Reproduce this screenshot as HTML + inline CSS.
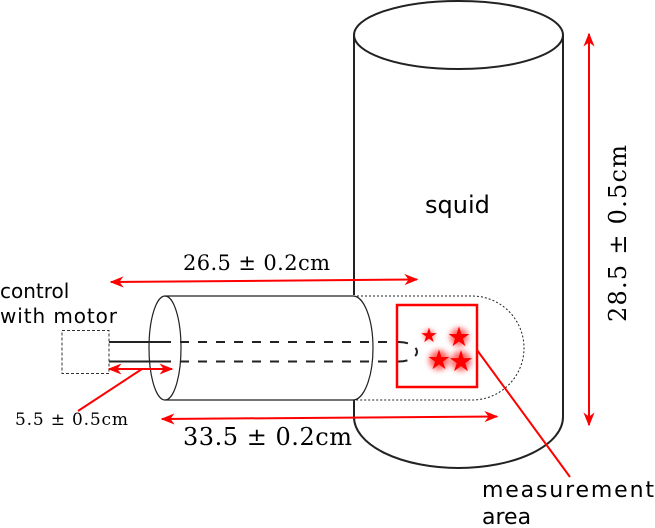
<!DOCTYPE html>
<html><head><meta charset="utf-8"><style>
html,body{margin:0;padding:0;background:#fff;width:655px;height:528px;overflow:hidden}
svg{display:block}
.s{font-family:"DejaVu Sans","Liberation Sans",sans-serif}
.m{font-family:"DejaVu Serif","Liberation Serif",serif}
</style></head><body>
<svg width="655" height="528" viewBox="0 0 655 528">
<defs>
<marker id="ah" viewBox="0 0 10 10" refX="9" refY="5" markerWidth="7" markerHeight="7" orient="auto-start-reverse"><path d="M0,1 L10,5 L0,9 L3,5 z" fill="#f00"/></marker>
<filter id="glow" x="-1" y="-1" width="3" height="3"><feGaussianBlur stdDeviation="3"/></filter>
</defs>
<g fill="none" stroke="#222" stroke-width="2">
<ellipse cx="458.5" cy="35" rx="104.5" ry="34"/>
<path d="M354,35 L354,295 M354,400 L354,417 A104.5,51 0 0 0 563,417 L563,35"/>
</g>
<g fill="none" stroke="#222" stroke-width="1" stroke-dasharray="2,2">
<path d="M353,296 L472,296 A52,52 0 0 1 472,400 L353,400"/>
</g>
<g fill="none" stroke="#222" stroke-width="1.2">
<ellipse cx="165" cy="348" rx="16" ry="52"/>
<path d="M165,296 L353,296 A20,52 0 0 1 353,400 L165,400"/>
</g>
<g fill="none" stroke="#222" stroke-width="2">
<path d="M109,342 L162,342 M109,361.5 L162,361.5"/>
<path d="M162,342 L399,342 M162,361.5 L399,361.5 M399,342 A18,9.75 0 0 1 399,361.5" stroke-dasharray="9,9"/>
</g>
<rect x="62" y="330.5" width="47" height="43" fill="none" stroke="#333" stroke-width="1" stroke-dasharray="3,2"/>
<rect x="397" y="305" width="80" height="82" fill="none" stroke="#f00" stroke-width="2.5"/>
<g fill="#f00">
<g filter="url(#glow)" opacity="0.6"><circle cx="459" cy="337" r="9"/><circle cx="439" cy="360" r="10"/><circle cx="461" cy="361" r="10"/><circle cx="429" cy="335" r="5"/></g>
<text x="429" y="342" font-size="20" text-anchor="middle" class="s">★</text>
<text x="459" y="346" font-size="27" text-anchor="middle" class="s">★</text>
<text x="439" y="369" font-size="27" text-anchor="middle" class="s">★</text>
<text x="461" y="371" font-size="29" text-anchor="middle" class="s">★</text>
</g>
<g stroke="#f00" stroke-width="2" fill="none">
<line x1="111" y1="282" x2="417" y2="279.5" marker-start="url(#ah)" marker-end="url(#ah)"/>
<line x1="162" y1="419" x2="497" y2="416.5" marker-start="url(#ah)" marker-end="url(#ah)"/>
<line x1="109" y1="369" x2="172" y2="369" marker-start="url(#ah)" marker-end="url(#ah)"/>
<line x1="142" y1="369" x2="78" y2="411"/>
<line x1="589" y1="34" x2="589" y2="425" marker-start="url(#ah)" marker-end="url(#ah)"/>
<line x1="477" y1="350" x2="570" y2="477"/>
</g>
<text class="s" x="425" y="213" font-size="24">squid</text>
<text class="m" x="183" y="270" font-size="21" textLength="147" lengthAdjust="spacing">26.5 ± 0.2cm</text>
<text class="m" x="183" y="445" font-size="24" textLength="169" lengthAdjust="spacing">33.5 ± 0.2cm</text>
<text class="m" x="15" y="425" font-size="17" textLength="113" lengthAdjust="spacing">5.5 ± 0.5cm</text>
<text class="m" transform="translate(626,322) rotate(-90)" font-size="24" textLength="177" lengthAdjust="spacing">28.5 ± 0.5cm</text>
<text class="s" x="0" y="298" font-size="20">control</text>
<text class="s" x="0" y="323" font-size="20" textLength="117">with motor</text>
<text class="s" x="482" y="497" font-size="22" textLength="172">measurement</text>
<text class="s" x="482" y="524" font-size="22">area</text>
</svg>
</body></html>
